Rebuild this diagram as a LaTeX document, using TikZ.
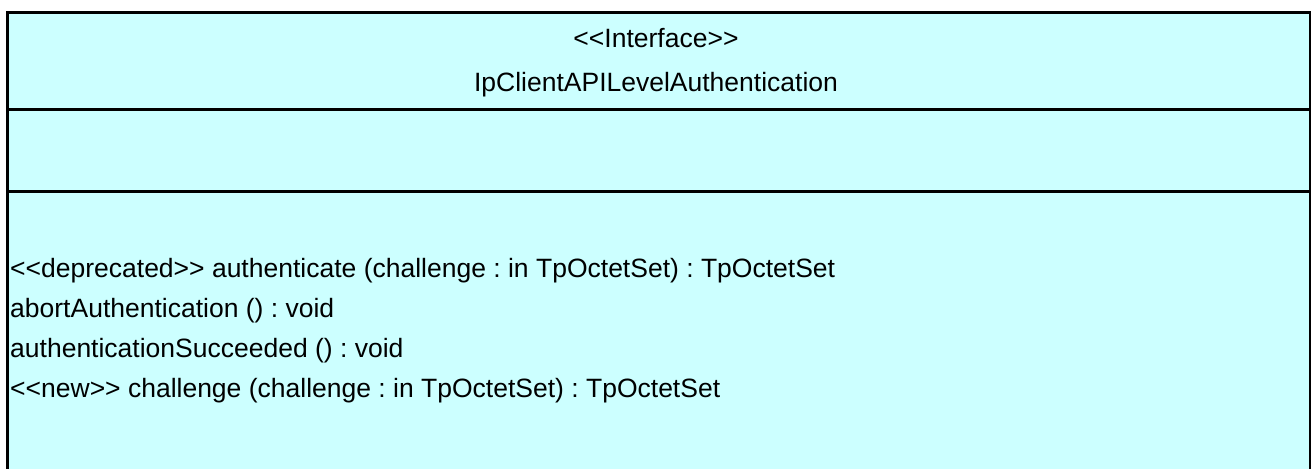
\documentclass[tikz,border=0pt]{standalone}
\usepackage{fontspec}
\setmainfont[Ligatures=TeXOff]{Liberation Sans}
\usetikzlibrary{positioning}
\definecolor{ifacefill}{HTML}{CCFFFF}
\newcommand{\umlfont}{\fontsize{26.5}{30}\selectfont\frenchspacing}
\tikzset{
  umltext/.style={inner sep=0pt, font=\umlfont, anchor=base},
  opline/.style={umltext, anchor=base west},
  heavy/.style={line width=3pt},
}

\begin{document}
\begin{tikzpicture}[x=1pt, y=-1pt]
  %%%%% frame %%%%%
  \useasboundingbox (0,0) rectangle (1311,469);
  \fill[ifacefill] (7.5,12.5) rectangle (1310,469);

  \draw[heavy] (6,12.5) -- (1311,12.5);
  \draw[heavy] (7.5,11) -- (7.5,469);
  \draw[line width=1.5pt] (1310.2,12.5) -- (1310.2,469);
  \draw[heavy] (6,109.5) -- (1311,109.5);
  \draw[heavy] (6,191) -- (1311,191);

  %%%%% name compartment %%%%%
  \node[umltext] (stereo) at (656,47) {<<Interface>>};
  \node[umltext] (name) at (656,91) {IpClientAPILevelAuthentication};

  %%%%% operations %%%%%
  \node[opline] (opAuth) at (10,277) {<<deprecated>> authenticate (challenge : in TpOctetSet) : TpOctetSet};
  \node[opline] (opAbort) at (10,317) {abortAuthentication () : void};
  \node[opline] (opOk) at (10,357) {authenticationSucceeded () : void};
  \node[opline] (opChal) at (10,397) {<<new>> challenge (challenge : in TpOctetSet) : TpOctetSet};
\end{tikzpicture}
\end{document}
